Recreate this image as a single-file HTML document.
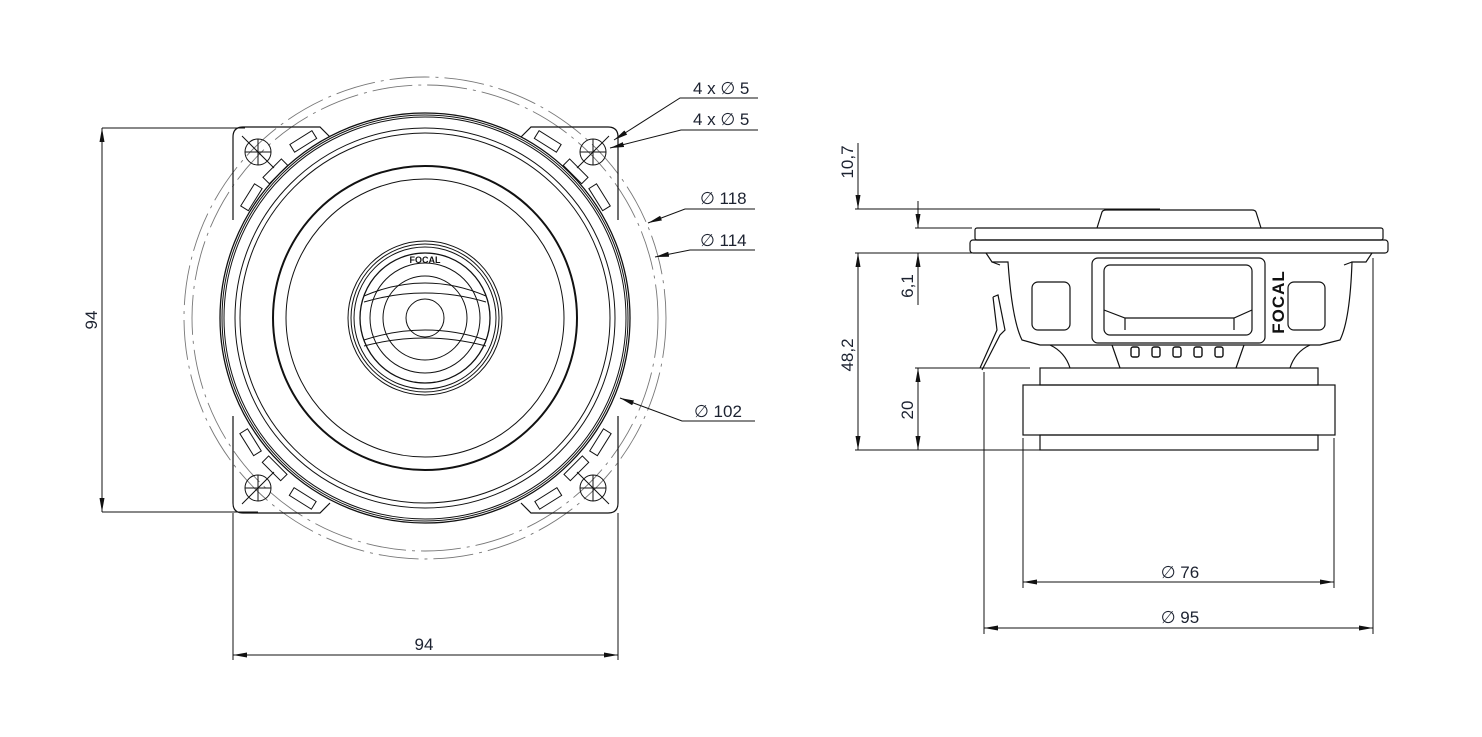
<!DOCTYPE html>
<html><head><meta charset="utf-8"><style>
html,body{margin:0;padding:0;background:#fff}
svg{display:block}
text{font-family:"Liberation Sans","DejaVu Sans",sans-serif;font-size:17px;fill:#1c2230}
</style></head><body>
<svg width="1482" height="737" viewBox="0 0 1482 737" xmlns="http://www.w3.org/2000/svg">
<defs>
<marker id="a" viewBox="0 0 14 6" refX="14" refY="3" markerWidth="14" markerHeight="6" markerUnits="userSpaceOnUse" orient="auto-start-reverse"><path d="M0,0.5 L14,3 L0,5.5z" fill="#111"/></marker>
</defs>
<g fill="none" stroke="#111">
<circle cx="425" cy="318" r="241" stroke="#777" stroke-width="0.9" stroke-dasharray="40 6 3 6"/>
<circle cx="425" cy="318" r="233" stroke="#777" stroke-width="0.9" stroke-dasharray="40 6 3 6"/>
<path d="M233,220 L233,137 Q233,127 243,127 L320,127 L330,137" stroke-width="1.2"/>
<path d="M618,220 L618,137 Q618,127 608,127 L531,127 L521,137" stroke-width="1.2"/>
<path d="M233,416 L233,503 Q233,513 243,513 L320,513 L330,503" stroke-width="1.2"/>
<path d="M618,416 L618,503 Q618,513 608,513 L531,513 L521,503" stroke-width="1.2"/>
<circle cx="425" cy="318" r="205" stroke-width="1.3"/>
<circle cx="425" cy="318" r="203" stroke-width="1"/>
<circle cx="425" cy="318" r="201" stroke-width="1"/>
<circle cx="425" cy="318" r="190" stroke-width="1"/>
<circle cx="425" cy="318" r="185" stroke-width="1"/>
<circle cx="425" cy="318" r="152" stroke-width="2"/>
<circle cx="425" cy="318" r="139" stroke-width="1"/>
<circle cx="425" cy="318" r="77" stroke-width="1"/>
<circle cx="425" cy="318" r="74" stroke-width="1"/>
<circle cx="425" cy="318" r="71" stroke-width="1"/>
<circle cx="425" cy="318" r="65" stroke-width="1.3"/>
<circle cx="425" cy="318" r="55" stroke-width="1"/>
<circle cx="425" cy="318" r="42" stroke-width="1"/>
<circle cx="425" cy="318" r="19" stroke-width="1"/>
<path d="M364,296 Q425,270 486,296 M364,302 Q425,284 486,302" stroke-width="1"/>
<path d="M364,346 Q425,330 486,346 M364,340 Q425,320 486,340" stroke-width="1"/>
<g stroke-width="1">
<circle cx="258" cy="152" r="13"/><path d="M245,152h26M258,139v26M242,136l32,32"/>
<circle cx="593" cy="152" r="13"/><path d="M580,152h26M593,139v26M609,136l-32,32"/>
<circle cx="258" cy="488" r="13"/><path d="M245,488h26M258,475v26M242,504l32,-32"/>
<circle cx="593" cy="488" r="13"/><path d="M580,488h26M593,475v26M609,504l-32,-32"/>
</g>
<g stroke-width="1">
<rect x="290" y="137" width="26" height="9" transform="rotate(-32 303 141)"/>
<rect x="262" y="167" width="26" height="9" transform="rotate(-45 275 171)"/>
<rect x="238" y="193" width="26" height="9" transform="rotate(-58 251 197)"/>
<rect x="535" y="137" width="26" height="9" transform="rotate(32 548 141)"/>
<rect x="563" y="167" width="26" height="9" transform="rotate(45 576 171)"/>
<rect x="587" y="193" width="26" height="9" transform="rotate(58 600 197)"/>
<rect x="290" y="494" width="26" height="9" transform="rotate(32 303 498)"/>
<rect x="262" y="464" width="26" height="9" transform="rotate(45 275 468)"/>
<rect x="238" y="438" width="26" height="9" transform="rotate(58 251 442)"/>
<rect x="535" y="494" width="26" height="9" transform="rotate(-32 548 498)"/>
<rect x="563" y="464" width="26" height="9" transform="rotate(-45 576 468)"/>
<rect x="587" y="438" width="26" height="9" transform="rotate(-58 600 442)"/>
</g>
<g stroke-width="1">
<path d="M102,128H245M102,512H258"/>
<path d="M102,128V512" marker-start="url(#a)" marker-end="url(#a)"/>
<path d="M233,513V660M618,513V660"/>
<path d="M233,655H618" marker-start="url(#a)" marker-end="url(#a)"/>
<path d="M758,98H680L614,140" marker-end="url(#a)"/>
<path d="M758,130H681L610,148" marker-end="url(#a)"/>
<path d="M755,209H685L648,223" marker-end="url(#a)"/>
<path d="M755,250H690L655,257" marker-end="url(#a)"/>
<path d="M755,421H682L620,398" marker-end="url(#a)"/>
</g>
<g stroke-width="1.2">
<path d="M1097,228 L1102,212 Q1103,210 1106,210 L1252,210 Q1255,210 1256,212 L1261,228"/>
<rect x="975" y="228" width="408" height="12" rx="2"/>
<rect x="970" y="240" width="418" height="13" rx="3"/>
<path d="M986,253 L992,262 L1008,262 Q1012,320 1022,340 L1040,345 L1320,345 L1340,340 Q1350,320 1352,262 L1366,262 L1372,253"/>
<path d="M992,262 L1000,265 M1352,262 L1344,265"/>
<rect x="1092" y="258" width="173" height="85" rx="6"/>
<rect x="1104" y="265" width="148" height="70" rx="6"/>
<path d="M1104,310 L1125,318 L1234,318 L1252,310 M1125,318V330 M1234,318V330"/>
<rect x="1032" y="282" width="38" height="48" rx="6"/>
<rect x="1288" y="282" width="37" height="48" rx="6"/>
<path d="M1050,345 Q1065,352 1070,368 M1310,345 Q1295,352 1290,368 M1112,345 L1120,368 M1244,345 L1236,368"/>
<rect x="1040" y="368" width="278" height="17"/>
<rect x="1023" y="385" width="312" height="50"/>
<rect x="1040" y="435" width="278" height="15"/>
<path d="M993,297 L998,295 L1005,330 L1000,335 L982,370 M993,297 L997,330 L980,368"/>
</g>
<g stroke-width="1.4">
<rect x="1131" y="347" width="8" height="10" rx="2"/>
<rect x="1152" y="347" width="8" height="10" rx="2"/>
<rect x="1173" y="347" width="8" height="10" rx="2"/>
<rect x="1194" y="347" width="8" height="10" rx="2"/>
<rect x="1215" y="347" width="8" height="10" rx="2"/>
</g>
<g stroke-width="1">
<path d="M855,209H1160M855,253H975M915,228H972M915,368H1030M855,450H1040"/>
<path d="M858,143V209" marker-end="url(#a)"/>
<path d="M858,253V450" marker-start="url(#a)" marker-end="url(#a)"/>
<path d="M918,201V228" marker-end="url(#a)"/>
<path d="M918,253V305" marker-start="url(#a)"/>
<path d="M918,368V450" marker-start="url(#a)" marker-end="url(#a)"/>
<path d="M1023,438V588M1334,438V588M984,372V634M1373,258V634"/>
<path d="M1023,582H1334" marker-start="url(#a)" marker-end="url(#a)"/>
<path d="M984,628H1373" marker-start="url(#a)" marker-end="url(#a)"/>
</g>
</g>
<text x="425" y="263" text-anchor="middle" style="font-size:9px;font-weight:bold;fill:#111">FOCAL</text>
<text transform="translate(1284,302) rotate(-90)" text-anchor="middle" style="font-size:17px;font-weight:bold;fill:#111;letter-spacing:1px">FOCAL</text>
<text transform="translate(97,320) rotate(-90)" text-anchor="middle">94</text>
<text x="424" y="650" text-anchor="middle">94</text>
<text x="693" y="94">4 x ∅ 5</text>
<text x="693" y="125">4 x ∅ 5</text>
<text x="700" y="204">∅ 118</text>
<text x="700" y="246">∅ 114</text>
<text x="694" y="417">∅ 102</text>
<text transform="translate(853,162) rotate(-90)" text-anchor="middle">10,7</text>
<text transform="translate(913,286) rotate(-90)" text-anchor="middle">6,1</text>
<text transform="translate(853,355) rotate(-90)" text-anchor="middle">48,2</text>
<text transform="translate(913,410) rotate(-90)" text-anchor="middle">20</text>
<text x="1180" y="578" text-anchor="middle">∅ 76</text>
<text x="1180" y="623" text-anchor="middle">∅ 95</text>
</svg>
</body></html>
